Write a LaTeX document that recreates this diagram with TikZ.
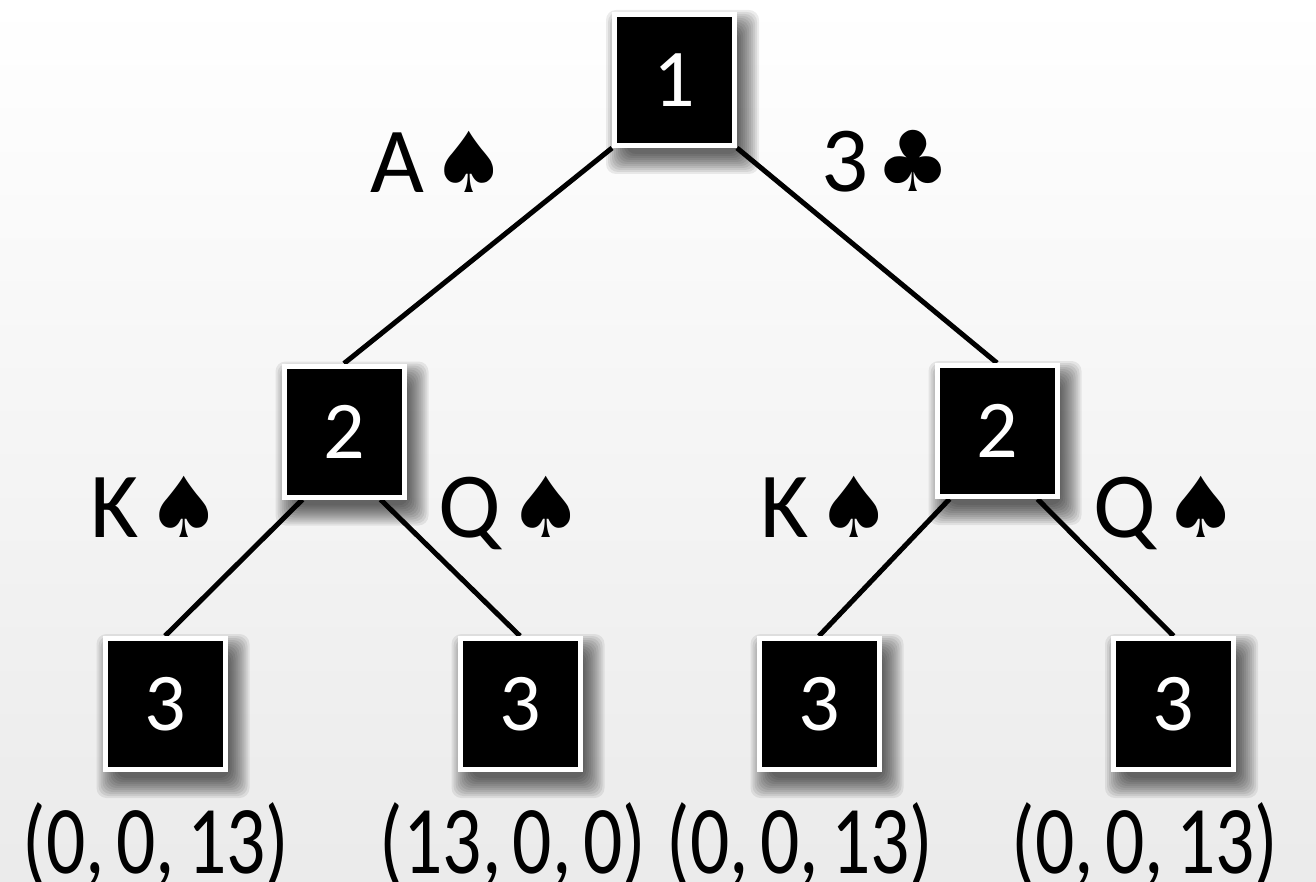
\documentclass[tikz,border=0pt]{standalone}
\usepackage{fontspec}
\setmainfont{Carlito}
\newfontfamily\suitfont{DejaVu Sans}
\pgfdeclarelayer{bg}
\pgfdeclarelayer{shadow}
\pgfdeclarelayer{edges}
\pgfsetlayers{bg,shadow,edges,main}
\newcommand\suitglyph[1]{\hspace{0.08em}{\suitfont\fontsize{84}{84}\selectfont #1}}
\newcommand\cs{,\hspace{0.15em}}
\newcommand\narrow[1]{\scalebox{0.8}[1]{#1}}
\begin{document}
\begin{tikzpicture}[x=1pt,y=-1pt,
  player/.style={fill=black, draw=white, line width=5pt,
    minimum width=120pt, minimum height=131pt, inner sep=0pt,
    text=white, font=\fontsize{82}{82}\selectfont},
  move/.style={font=\fontsize{93}{93}\selectfont, anchor=base, inner sep=0pt},
  payoff/.style={font=\fontsize{97}{97}\selectfont, anchor=base, inner sep=0pt},
  edge/.style={line width=5pt, draw=black},
  softshadow/.style={fill=black, opacity=0.075, rounded corners=10pt}]
\begin{pgfonlayer}{bg}
  \shade[top color=white, bottom color=black!8] (0,0) rectangle (1316,882);
\end{pgfonlayer}
\useasboundingbox (0,0) rectangle (1316,882);

% decision nodes
\node[player] (r)   at (674.5,80)   {1};
\node[player] (l2)  at (344,431.5)  {2};
\node[player] (r2)  at (997,431)    {2};
\node[player] (l3a) at (165,704)    {3};
\node[player] (l3b) at (520,704)    {3};
\node[player] (r3a) at (819,704)    {3};
\node[player] (r3b) at (1173.5,704) {3};

% soft drop shadows, built from stacked translucent rectangles
\begin{pgfonlayer}{shadow}
  \foreach \n in {r,l2,r2,l3a,l3b,r3a,r3b}{
    \foreach \k in {-6,-4,...,14}{
      \fill[softshadow] ([shift={(8-\k,12+\k)}]\n.south west)
        rectangle ([shift={(8+\k,12-\k)}]\n.north east);
    }
  }
\end{pgfonlayer}

% branches
\begin{pgfonlayer}{edges}
  \draw[edge] (r.south west) -- (l2.north);
  \draw[edge] (r.south east) -- (r2.north);
  \draw[edge] ([xshift=21pt]l2.south west) -- (l3a.north);
  \draw[edge] ([xshift=-26pt]l2.south east) -- (l3b.north);
  \draw[edge] ([xshift=15pt]r2.south west) -- (r3a.north);
  \draw[edge] ([xshift=-22pt]r2.south east) -- (r3b.north);
\end{pgfonlayer}

% card labels
\node[move] (mA)  at (439,193)  {A\suitglyph{♠}};
\node[move] (m3)  at (886,192)  {3\suitglyph{♣}};
\node[move] (mK1) at (156,537)  {K\suitglyph{♠}};
\node[move] (mQ1) at (511,537)  {Q\suitglyph{♠}};
\node[move] (mK2) at (826,537)  {K\suitglyph{♠}};
\node[move] (mQ2) at (1166,537) {Q\suitglyph{♠}};

% payoffs
\node[payoff] (p1) at (156,873)  {\narrow{(0\cs 0\cs 13)}};
\node[payoff] (p2) at (513,873)  {\narrow{(13\cs 0\cs 0)}};
\node[payoff] (p3) at (800,873)  {\narrow{(0\cs 0\cs 13)}};
\node[payoff] (p4) at (1145,873) {\narrow{(0\cs 0\cs 13)}};
\end{tikzpicture}
\end{document}
